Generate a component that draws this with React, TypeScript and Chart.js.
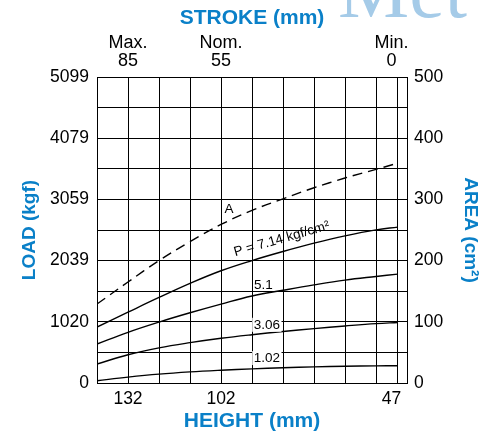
import React, { useEffect, useRef } from 'react';
import { Chart, registerables } from 'chart.js';

Chart.register(...registerables);

// ---- data ----
const HEIGHTS = [142, 132, 122, 112, 102, 92, 82, 72, 62, 52, 45];
const LOAD_P714 = [932, 1180, 1425, 1660, 1870, 2040, 2191, 2330, 2452, 2552, 2597];
const LOAD_P51 = [649, 845, 1015, 1170, 1315, 1450, 1545, 1635, 1715, 1775, 1814];
const LOAD_P306 = [316, 470, 585, 672, 745, 805, 858, 906, 950, 990, 1009];
const LOAD_P102 = [38, 98, 148, 185, 213, 236, 254, 268, 279, 286, 288];
const AREA_HEIGHTS = [142, 132, 122, 112, 102, 92, 82, 72, 62, 52, 46.5];
const AREA_A = [129, 165, 200, 231, 259, 282, 301, 319, 335, 349, 357];

const HEIGHT_MIN = 42;
const HEIGHT_MAX = 142;
const HEIGHT_GRID = [142, 132, 122, 112, 102, 92, 82, 72, 62, 52, 47, 45, 42];
const HEIGHT_LABELS = [132, 102, 47];
const STROKE_OFFSET = 47; // stroke = height - 47
const STROKE_TICKS = [85, 55, 0];
const STROKE_NAMES = ['Max.', 'Nom.', 'Min.'];
const LOAD_MAX = 5099;
const LOAD_LABELS = ['0', '1020', '2039', '3059', '4079', '5099'];
const AREA_MAX = 500;
const AREA_LABELS = [0, 100, 200, 300, 400, 500];
const GRID_ROWS = 10;

const CURVE_LABELS = [
  { text: 'A', x: 99.4, y: 2893, rot: 0, box: false },
  { text: 'P = 7.14 kgf/cm²', x: 82.4, y: 2397, rot: -16, box: false },
  { text: '5.1', x: 88.3, y: 1623, rot: 0, box: false },
  { text: '3.06', x: 87.2, y: 970, rot: 0, box: true },
  { text: '1.02', x: 87.2, y: 416, rot: 0, box: true },
];

const BLUE = '#0a80c8';
const FONT = '"Liberation Sans", Arial, Helvetica, sans-serif';

const zip = (xs: number[], ys: number[]) => xs.map((x, i) => ({ x, y: ys[i] }));

const decorPlugin = {
  id: 'decor',
  beforeDraw(chart: any) {
    const ctx = chart.ctx;
    ctx.save();
    ctx.font = '80px "Liberation Serif", "DejaVu Serif", serif';
    ctx.fillStyle = '#a5cbe8';
    ctx.textAlign = 'left';
    ctx.textBaseline = 'alphabetic';
    ctx.fillText('Met', 338, 17);
    ctx.restore();
  },
  afterDatasetsDraw(chart: any) {
    const { ctx, scales } = chart;
    ctx.save();
    ctx.font = '13.5px ' + FONT;
    ctx.textAlign = 'center';
    ctx.textBaseline = 'middle';
    for (const l of CURVE_LABELS) {
      const px = scales.x.getPixelForValue(l.x);
      const py = scales.y.getPixelForValue(l.y);
      ctx.save();
      ctx.translate(px, py);
      if (l.rot) ctx.rotate((l.rot * Math.PI) / 180);
      if (l.box) {
        const w = ctx.measureText(l.text).width;
        ctx.fillStyle = '#fff';
        ctx.fillRect(-w / 2 - 1.5, -7, w + 3, 14);
      }
      ctx.fillStyle = '#000';
      ctx.fillText(l.text, 0, 0);
      ctx.restore();
    }
    ctx.restore();
  },
};

export default function App() {
  const ref = useRef<HTMLCanvasElement | null>(null);

  useEffect(() => {
    if (!ref.current) return;
    Chart.defaults.font.family = FONT;
    Chart.defaults.color = '#000';

    const lineBase = {
      borderColor: '#000',
      borderWidth: 1.4,
      pointRadius: 0,
      fill: false,
      tension: 0.4,
    };

    const chart = new Chart(ref.current, {
      type: 'line',
      data: {
        datasets: [
          { ...lineBase, label: 'A', data: zip(AREA_HEIGHTS, AREA_A), yAxisID: 'y2', borderDash: [10, 6] },
          { ...lineBase, label: '7.14', data: zip(HEIGHTS, LOAD_P714), yAxisID: 'y' },
          { ...lineBase, label: '5.1', data: zip(HEIGHTS, LOAD_P51), yAxisID: 'y' },
          { ...lineBase, label: '3.06', data: zip(HEIGHTS, LOAD_P306), yAxisID: 'y' },
          { ...lineBase, label: '1.02', data: zip(HEIGHTS, LOAD_P102), yAxisID: 'y' },
        ] as any,
      },
      options: {
        animation: false,
        responsive: false,
        devicePixelRatio: 1,
        layout: { padding: 0 },
        plugins: { legend: { display: false }, tooltip: { enabled: false } },
        scales: {
          x: {
            type: 'linear',
            position: 'bottom',
            reverse: true,
            min: HEIGHT_MIN,
            max: HEIGHT_MAX,
            afterBuildTicks: (s: any) => {
              s.ticks = HEIGHT_GRID.map((v) => ({ value: v }));
            },
            afterFit: (s: any) => {
              s.height = 53;
            },
            grid: {
              drawTicks: false,
              color: (c: any) => (c.tick && c.tick.value === 47 ? 'rgba(0,0,0,0)' : '#000'),
              lineWidth: 1,
            },
            border: { display: true, color: '#000', width: 1 },
            ticks: {
              autoSkip: false,
              maxRotation: 0,
              padding: 6,
              font: { size: 17.5 },
              color: '#000',
              callback: (v: any) => (HEIGHT_LABELS.includes(Number(v)) ? String(v) : ''),
            },
            title: {
              display: true,
              text: 'HEIGHT (mm)',
              color: BLUE,
              font: { size: 21, weight: 'bold' },
              padding: { top: 0, bottom: 2.4 },
            },
          },
          x2: {
            type: 'linear',
            position: 'top',
            reverse: true,
            min: HEIGHT_MIN - STROKE_OFFSET,
            max: HEIGHT_MAX - STROKE_OFFSET,
            afterBuildTicks: (s: any) => {
              s.ticks = STROKE_TICKS.map((v) => ({ value: v }));
            },
            afterFit: (s: any) => {
              s.height = 77;
            },
            grid: { display: false, drawTicks: false },
            border: { display: true, color: '#000', width: 1 },
            ticks: {
              autoSkip: false,
              maxRotation: 0,
              padding: 7,
              font: { size: 18, lineHeight: 1.0 },
              color: '#000',
              callback: (v: any) => {
                const i = STROKE_TICKS.indexOf(Number(v));
                return i >= 0 ? [STROKE_NAMES[i], String(v)] : '';
              },
            },
            title: {
              display: true,
              text: 'STROKE (mm)',
              color: BLUE,
              font: { size: 21, weight: 'bold' },
              padding: { top: 6, bottom: 0 },
            },
          },
          y: {
            type: 'linear',
            position: 'left',
            min: 0,
            max: LOAD_MAX,
            afterBuildTicks: (s: any) => {
              const t = [];
              for (let i = 0; i <= GRID_ROWS; i++) t.push({ value: (LOAD_MAX * i) / GRID_ROWS });
              s.ticks = t;
            },
            afterFit: (s: any) => {
              s.width = 97;
            },
            grid: { drawTicks: false, color: '#000', lineWidth: 1 },
            border: { display: true, color: '#000', width: 1 },
            ticks: {
              autoSkip: false,
              padding: 8,
              font: { size: 17.5 },
              color: '#000',
              callback: (_v: any, i: number) => (i % 2 === 0 ? LOAD_LABELS[i / 2] : ''),
            },
            title: {
              display: true,
              text: 'LOAD (kgf)',
              color: BLUE,
              font: { size: 19, weight: 'bold' },
              padding: { top: 18.6, bottom: 0 },
            },
          },
          y2: {
            type: 'linear',
            position: 'right',
            min: 0,
            max: AREA_MAX,
            afterBuildTicks: (s: any) => {
              s.ticks = AREA_LABELS.map((v) => ({ value: v }));
            },
            afterFit: (s: any) => {
              s.width = 75;
            },
            grid: { display: false, drawTicks: false },
            border: { display: true, color: '#000', width: 1 },
            ticks: {
              autoSkip: false,
              padding: 7,
              font: { size: 17.5 },
              color: '#000',
              callback: (v: any) => String(v),
            },
            title: {
              display: true,
              text: 'AREA (cm²)',
              color: BLUE,
              font: { size: 19, weight: 'bold' },
              padding: { top: 0.6, bottom: 0 },
            },
          },
        },
      } as any,
      plugins: [decorPlugin],
    });

    return () => chart.destroy();
  }, []);

  return (
    <div style={{ position: 'fixed', left: 0, top: 0, width: 482, height: 436, background: '#fff' }}>
      <canvas ref={ref} width={482} height={436} style={{ width: 482, height: 436, display: 'block' }} />
    </div>
  );
}
